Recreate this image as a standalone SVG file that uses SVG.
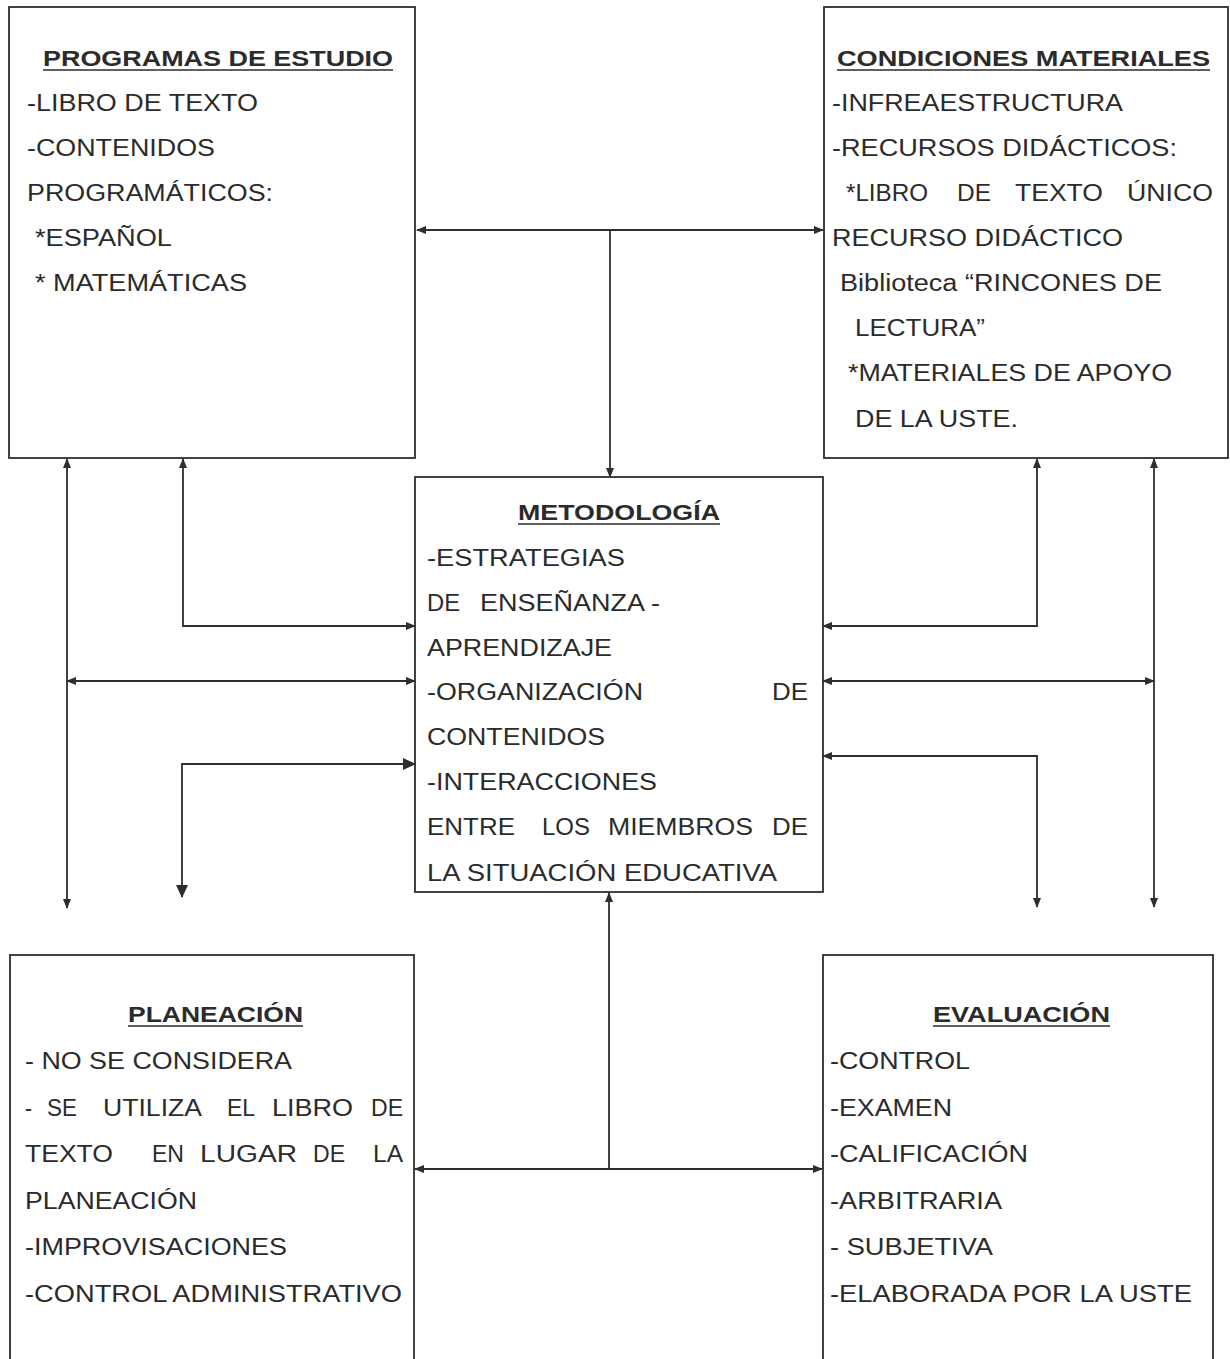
<svg xmlns="http://www.w3.org/2000/svg" width="1230" height="1359" viewBox="0 0 1230 1359">
<style>
.box{fill:none;stroke:#2e2e2e;stroke-width:1.8}
.t{font-family:"Liberation Sans",Arial,sans-serif;font-size:23px;fill:#2b2b2b}
.h{font-family:"Liberation Sans",Arial,sans-serif;font-size:22px;font-weight:bold;fill:#2b2b2b}
.ul{stroke:#2b2b2b;stroke-width:1.6}
.c{fill:none;stroke:#2e2e2e;stroke-width:1.8}
.a2{marker-start:url(#ar);marker-end:url(#ar)}
.a1{marker-end:url(#ar)}
.as{marker-start:url(#ar)}
.b2{marker-start:url(#big);marker-end:url(#big)}
</style>
<defs>
<marker id="ar" markerUnits="userSpaceOnUse" markerWidth="10" markerHeight="8" refX="9" refY="4" orient="auto-start-reverse" viewBox="0 0 10 8"><path d="M0,0 L10,4 L0,8 z" fill="#2e2e2e"/></marker>
<marker id="big" markerUnits="userSpaceOnUse" markerWidth="13" markerHeight="12" refX="12" refY="6" orient="auto-start-reverse" viewBox="0 0 13 12"><path d="M0,0 L13,6 L0,12 z" fill="#2e2e2e"/></marker>
</defs>
<rect width="1230" height="1359" fill="#fff"/>

<g id="connectors">
<path class="c a2" d="M417,230 H823"/>
<path class="c a1" d="M610,230 V477"/>
<path class="c a2" d="M67,459 V908"/>
<path class="c a2" d="M67,681 H415"/>
<path class="c a2" d="M183,459 V626 H415"/>
<path class="c b2" d="M415,764 H182 V897"/>
<path class="c a2" d="M1037,459 V626 H823"/>
<path class="c a2" d="M823,681 H1154"/>
<path class="c a2" d="M1154,459 V907"/>
<path class="c a2" d="M823,756 H1037 V907"/>
<path class="c as" d="M609,893 V1169"/>
<path class="c a2" d="M415,1169 H822"/>
</g>

<g id="programas">
<rect class="box" x="9" y="7" width="406" height="451"/>
<text class="h" x="43" y="66" textLength="350" lengthAdjust="spacingAndGlyphs">PROGRAMAS DE ESTUDIO</text>
<line class="ul" x1="43" y1="70" x2="393" y2="70"/>
<text class="t" x="27" y="111" textLength="231" lengthAdjust="spacingAndGlyphs">-LIBRO DE TEXTO</text>
<text class="t" x="27" y="156" textLength="188" lengthAdjust="spacingAndGlyphs">-CONTENIDOS</text>
<text class="t" x="27" y="201" textLength="246" lengthAdjust="spacingAndGlyphs">PROGRAMÁTICOS:</text>
<text class="t" x="35" y="246" textLength="137" lengthAdjust="spacingAndGlyphs">*ESPAÑOL</text>
<text class="t" x="35" y="291" textLength="212" lengthAdjust="spacingAndGlyphs">* MATEMÁTICAS</text>
</g>

<g id="condiciones">
<rect class="box" x="824" y="7" width="404" height="451"/>
<text class="h" x="837" y="66" textLength="373" lengthAdjust="spacingAndGlyphs">CONDICIONES MATERIALES</text>
<line class="ul" x1="837" y1="70" x2="1210" y2="70"/>
<text class="t" x="832" y="111" textLength="291" lengthAdjust="spacingAndGlyphs">-INFREAESTRUCTURA</text>
<text class="t" x="832" y="156" textLength="345" lengthAdjust="spacingAndGlyphs">-RECURSOS DIDÁCTICOS:</text>
<text class="t" x="846" y="201" textLength="82" lengthAdjust="spacingAndGlyphs">*LIBRO</text>
<text class="t" x="957" y="201" textLength="34" lengthAdjust="spacingAndGlyphs">DE</text>
<text class="t" x="1015" y="201" textLength="88" lengthAdjust="spacingAndGlyphs">TEXTO</text>
<text class="t" x="1127" y="201" textLength="86" lengthAdjust="spacingAndGlyphs">ÚNICO</text>
<text class="t" x="832" y="246" textLength="291" lengthAdjust="spacingAndGlyphs">RECURSO DIDÁCTICO</text>
<text class="t" x="840" y="291" textLength="322" lengthAdjust="spacingAndGlyphs">Biblioteca “RINCONES DE</text>
<text class="t" x="855" y="336" textLength="130" lengthAdjust="spacingAndGlyphs">LECTURA”</text>
<text class="t" x="848" y="381" textLength="324" lengthAdjust="spacingAndGlyphs">*MATERIALES DE APOYO</text>
<text class="t" x="855" y="427" textLength="163" lengthAdjust="spacingAndGlyphs">DE LA USTE.</text>
</g>

<g id="metodologia">
<rect class="box" x="415" y="477" width="408" height="415"/>
<text class="h" x="518" y="520" textLength="202" lengthAdjust="spacingAndGlyphs">METODOLOGÍA</text>
<line class="ul" x1="518" y1="524" x2="720" y2="524"/>
<text class="t" x="427" y="566" textLength="198" lengthAdjust="spacingAndGlyphs">-ESTRATEGIAS</text>
<text class="t" x="427" y="611" textLength="33" lengthAdjust="spacingAndGlyphs">DE</text>
<text class="t" x="480" y="611" textLength="180" lengthAdjust="spacingAndGlyphs">ENSEÑANZA -</text>
<text class="t" x="427" y="656" textLength="185" lengthAdjust="spacingAndGlyphs">APRENDIZAJE</text>
<text class="t" x="427" y="700" textLength="216" lengthAdjust="spacingAndGlyphs">-ORGANIZACIÓN</text>
<text class="t" x="772" y="700" textLength="36" lengthAdjust="spacingAndGlyphs">DE</text>
<text class="t" x="427" y="745" textLength="178" lengthAdjust="spacingAndGlyphs">CONTENIDOS</text>
<text class="t" x="427" y="790" textLength="230" lengthAdjust="spacingAndGlyphs">-INTERACCIONES</text>
<text class="t" x="427" y="835" textLength="88" lengthAdjust="spacingAndGlyphs">ENTRE</text>
<text class="t" x="542" y="835" textLength="48" lengthAdjust="spacingAndGlyphs">LOS</text>
<text class="t" x="608" y="835" textLength="145" lengthAdjust="spacingAndGlyphs">MIEMBROS</text>
<text class="t" x="772" y="835" textLength="36" lengthAdjust="spacingAndGlyphs">DE</text>
<text class="t" x="427" y="881" textLength="350" lengthAdjust="spacingAndGlyphs">LA SITUACIÓN EDUCATIVA</text>
</g>

<g id="planeacion">
<rect class="box" x="10" y="955" width="404" height="420"/>
<text class="h" x="128" y="1022" textLength="175" lengthAdjust="spacingAndGlyphs">PLANEACIÓN</text>
<line class="ul" x1="128" y1="1026" x2="303" y2="1026"/>
<text class="t" x="25" y="1069" textLength="267" lengthAdjust="spacingAndGlyphs">- NO SE CONSIDERA</text>
<text class="t" x="25" y="1116" textLength="7" lengthAdjust="spacingAndGlyphs">-</text>
<text class="t" x="47" y="1116" textLength="30" lengthAdjust="spacingAndGlyphs">SE</text>
<text class="t" x="103" y="1116" textLength="99" lengthAdjust="spacingAndGlyphs">UTILIZA</text>
<text class="t" x="227" y="1116" textLength="28" lengthAdjust="spacingAndGlyphs">EL</text>
<text class="t" x="272" y="1116" textLength="81" lengthAdjust="spacingAndGlyphs">LIBRO</text>
<text class="t" x="371" y="1116" textLength="32" lengthAdjust="spacingAndGlyphs">DE</text>
<text class="t" x="25" y="1162" textLength="88" lengthAdjust="spacingAndGlyphs">TEXTO</text>
<text class="t" x="152" y="1162" textLength="32" lengthAdjust="spacingAndGlyphs">EN</text>
<text class="t" x="200" y="1162" textLength="97" lengthAdjust="spacingAndGlyphs">LUGAR</text>
<text class="t" x="313" y="1162" textLength="32" lengthAdjust="spacingAndGlyphs">DE</text>
<text class="t" x="373" y="1162" textLength="30" lengthAdjust="spacingAndGlyphs">LA</text>
<text class="t" x="25" y="1209" textLength="172" lengthAdjust="spacingAndGlyphs">PLANEACIÓN</text>
<text class="t" x="25" y="1255" textLength="262" lengthAdjust="spacingAndGlyphs">-IMPROVISACIONES</text>
<text class="t" x="25" y="1302" textLength="377" lengthAdjust="spacingAndGlyphs">-CONTROL ADMINISTRATIVO</text>
</g>

<g id="evaluacion">
<rect class="box" x="823" y="955" width="390" height="420"/>
<text class="h" x="933" y="1022" textLength="177" lengthAdjust="spacingAndGlyphs">EVALUACIÓN</text>
<line class="ul" x1="933" y1="1026" x2="1110" y2="1026"/>
<text class="t" x="830" y="1069" textLength="140" lengthAdjust="spacingAndGlyphs">-CONTROL</text>
<text class="t" x="830" y="1116" textLength="122" lengthAdjust="spacingAndGlyphs">-EXAMEN</text>
<text class="t" x="830" y="1162" textLength="198" lengthAdjust="spacingAndGlyphs">-CALIFICACIÓN</text>
<text class="t" x="830" y="1209" textLength="172" lengthAdjust="spacingAndGlyphs">-ARBITRARIA</text>
<text class="t" x="830" y="1255" textLength="163" lengthAdjust="spacingAndGlyphs">- SUBJETIVA</text>
<text class="t" x="830" y="1302" textLength="362" lengthAdjust="spacingAndGlyphs">-ELABORADA POR LA USTE</text>
</g>
</svg>
